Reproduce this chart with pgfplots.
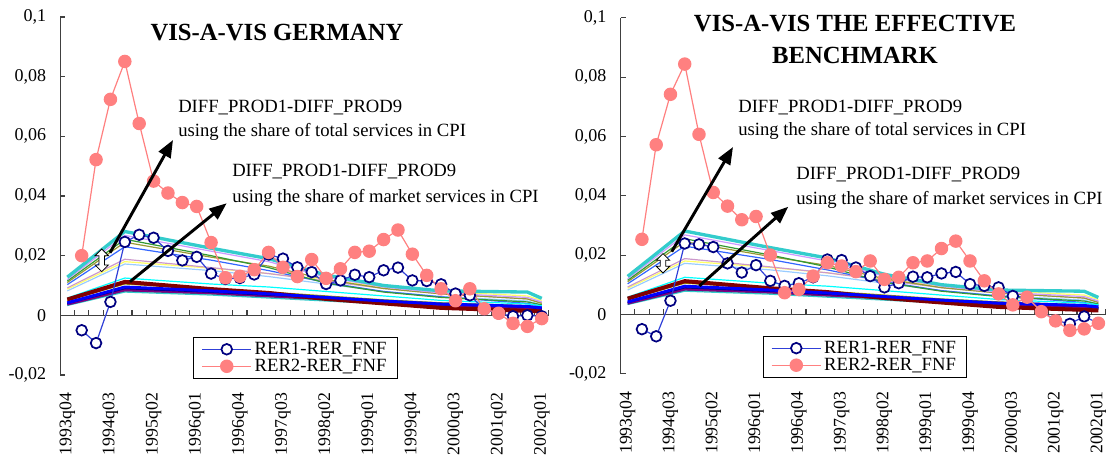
\documentclass[border=0pt]{standalone}
\usepackage{fontspec}
\setmainfont{Liberation Serif}
\usepackage{pgfplots}
\usepackage{pgfplotstable}
\pgfplotsset{compat=1.18}
\usetikzlibrary{arrows.meta}

\definecolor{cTeal}{HTML}{33CCCC}
\definecolor{cViolet}{HTML}{CC99FF}
\definecolor{cGreen}{HTML}{339933}
\definecolor{cOlive}{HTML}{999933}
\definecolor{cBlueA}{HTML}{3366FF}
\definecolor{cPink}{HTML}{CC99CC}
\definecolor{cYellow}{HTML}{FFFF66}
\definecolor{cLightBlue}{HTML}{99CCFF}
\definecolor{cCyan}{HTML}{00FFFF}
\definecolor{cOliveB}{HTML}{999900}
\definecolor{cNavy}{HTML}{000080}
\definecolor{cPurple}{HTML}{800080}
\definecolor{cTealB}{HTML}{008080}
\definecolor{cCyanB}{HTML}{33CCCC}
\definecolor{cMaroon}{HTML}{800000}
\definecolor{cBlueB}{HTML}{0000FF}
\definecolor{cBlueLine}{HTML}{3040D8}
\definecolor{cRed}{HTML}{FF8080}
\definecolor{cAxis}{HTML}{404040}

\pgfplotstableread{
x  t1     t2     t3     t4     t5     t6     t7     t8     m1     m2     m3     m4     m5     m6     m7     m8
0  0.0128 0.0120 0.0115 0.0110 0.0103 0.0092 0.0088 0.0082 0.0058 0.0050 0.0040 0.0037 0.0035 0.0033 0.0053 0.0042
4  0.0281 0.0268 0.0255 0.0245 0.0230 0.0188 0.0180 0.0172 0.0125 0.0105 0.0090 0.0085 0.0082 0.0078 0.0112 0.0095
10 0.0225 0.0215 0.0200 0.0195 0.0185 0.0160 0.0158 0.0150 0.0105 0.0088 0.0078 0.0075 0.0072 0.0068 0.0088 0.0082
14 0.0190 0.0180 0.0160 0.0165 0.0150 0.0140 0.0140 0.0130 0.0095 0.0078 0.0068 0.0065 0.0062 0.0058 0.0075 0.0072
18 0.0135 0.0128 0.0108 0.0120 0.0110 0.0115 0.0118 0.0105 0.0080 0.0065 0.0058 0.0055 0.0052 0.0048 0.0055 0.0060
22 0.0100 0.0095 0.0078 0.0090 0.0080 0.0090 0.0095 0.0080 0.0065 0.0052 0.0046 0.0043 0.0040 0.0038 0.0040 0.0048
26 0.0082 0.0075 0.0060 0.0072 0.0062 0.0072 0.0080 0.0063 0.0050 0.0042 0.0036 0.0033 0.0030 0.0028 0.0025 0.0038
32 0.0078 0.0060 0.0045 0.0055 0.0040 0.0055 0.0065 0.0048 0.0038 0.0032 0.0028 0.0025 0.0022 0.0022 0.0015 0.0030
33 0.0057 0.0045 0.0035 0.0040 0.0030 0.0042 0.0050 0.0035 0.0032 0.0026 0.0022 0.0020 0.0018 0.0018 0.0013 0.0025
}\difflines

\pgfplotstableread{
x y
1 -0.0050
2 -0.0093
3 0.0045
4 0.0246
5 0.0270
6 0.0260
7 0.0216
8 0.0184
9 0.0196
10 0.0140
11 0.0122
12 0.0125
13 0.0137
14 0.0204
15 0.0190
16 0.0161
17 0.0145
18 0.0105
19 0.0117
20 0.0136
21 0.0128
22 0.0151
23 0.0160
24 0.0117
25 0.0115
26 0.0104
27 0.0073
28 0.0067
29 0.0020
30 0.0006
31 -0.0003
32 0.0000
33 -0.0003
}\blueL

\pgfplotstableread{
x y
1 0.0200
2 0.0522
3 0.0724
4 0.0851
5 0.0643
6 0.0450
7 0.0410
8 0.0378
9 0.0365
10 0.0244
11 0.0126
12 0.0131
13 0.0153
14 0.0211
15 0.0161
16 0.0130
17 0.0187
18 0.0124
19 0.0156
20 0.0211
21 0.0215
22 0.0254
23 0.0286
24 0.0205
25 0.0134
26 0.0089
27 0.0049
28 0.0089
29 0.0022
30 0.0007
31 -0.0027
32 -0.0037
33 -0.0011
}\redL

\pgfplotstableread{
x y
1 -0.0050
2 -0.0074
3 0.0046
4 0.0239
5 0.0236
6 0.0227
7 0.0172
8 0.0141
9 0.0166
10 0.0113
11 0.0096
12 0.0105
13 0.0125
14 0.0185
15 0.0183
16 0.0158
17 0.0129
18 0.0091
19 0.0105
20 0.0127
21 0.0125
22 0.0138
23 0.0143
24 0.0102
25 0.0096
26 0.0091
27 0.0062
28 0.0058
29 0.0010
30 -0.0020
31 -0.0032
32 -0.0007
33 -0.0030
}\blueR

\pgfplotstableread{
x y
1 0.0253
2 0.0572
3 0.0742
4 0.0844
5 0.0607
6 0.0411
7 0.0365
8 0.0319
9 0.0330
10 0.0200
11 0.0073
12 0.0084
13 0.0129
14 0.0174
15 0.0163
16 0.0144
17 0.0180
18 0.0118
19 0.0125
20 0.0174
21 0.0180
22 0.0222
23 0.0247
24 0.0180
25 0.0113
26 0.0069
27 0.0032
28 0.0058
29 0.0009
30 -0.0022
31 -0.0054
32 -0.0049
33 -0.0030
}\redR

\pgfplotsset{
  panel/.style={
    scale only axis,
    xmin=-0.5, xmax=33.5, ymin=-0.02, ymax=0.1,
    axis lines*=left,
    x axis line style={draw=none},
    axis line style={line width=0.8pt, cAxis},
    xtick={0,3,...,33},
    xticklabels={1993q04,1994q03,1995q02,1996q01,1996q04,1997q03,1998q02,1999q01,1999q04,2000q03,2001q02,2002q01},
    xtick style={draw=none},
    xticklabel style={rotate=90, anchor=east, font=\fontsize{13.3}{15}\selectfont, xshift=-10pt},
    ytick={-0.02,0,0.02,0.04,0.06,0.08,0.1},
    yticklabels={{-0,02},{0},{0,02},{0,04},{0,06},{0,08},{0,1}},
    yticklabel style={font=\fontsize{13.5}{15}\selectfont, xshift=-7pt},
    tick align=inside,
    major tick length=3.75pt,
    ytick style={line width=0.8pt, cAxis},
    clip=false,
    legend cell align=left,
    legend style={draw=black, line width=0.6pt, font=\fontsize{14}{14}\selectfont,
      inner xsep=6pt, inner ysep=1.5pt, row sep=-2pt, anchor=north west},
    legend image code/.code={
      \draw[mark repeat=2,mark phase=2,##1] plot coordinates {(0pt,0pt) (18.5pt,0pt) (37pt,0pt)};
    },
  },
  dl/.style={forget plot, mark=none},
}

\newcommand{\difflinesplot}{%
  \pgfplotsinvokeforeach{-0.5,0.5,...,33.5}{\draw[line width=0.8pt, cAxis] (axis cs:##1,0) -- ++(0pt,3.75pt);}
  \draw[line width=0.8pt, cAxis] (axis cs:-0.5,0) -- (axis cs:33.5,0);
  \addplot[dl, cLightBlue, line width=0.9pt] table[x=x,y=t8]{\difflines};
  \addplot[dl, cYellow, line width=0.9pt] table[x=x,y=t7]{\difflines};
  \addplot[dl, cPink, line width=0.9pt] table[x=x,y=t6]{\difflines};
  \addplot[dl, cBlueA, line width=0.9pt] table[x=x,y=t5]{\difflines};
  \addplot[dl, cOlive, line width=0.9pt] table[x=x,y=t4]{\difflines};
  \addplot[dl, cGreen, line width=0.9pt] table[x=x,y=t3]{\difflines};
  \addplot[dl, cViolet, line width=0.9pt] table[x=x,y=t2]{\difflines};
  \addplot[dl, cTeal, line width=2.5pt] table[x=x,y=t1]{\difflines};
  \addplot[dl, cCyanB, line width=0.9pt] table[x=x,y=m6]{\difflines};
  \addplot[dl, cTealB, line width=0.9pt] table[x=x,y=m5]{\difflines};
  \addplot[dl, cPurple, line width=1.9pt] table[x=x,y=m4]{\difflines};
  \addplot[dl, cNavy, line width=1.2pt] table[x=x,y=m3]{\difflines};
  \addplot[dl, cOliveB, line width=0.9pt] table[x=x,y=m2]{\difflines};
  \addplot[dl, cCyan, line width=0.9pt] table[x=x,y=m1]{\difflines};
  \addplot[dl, cMaroon, line width=3pt] table[x=x,y=m7]{\difflines};
  \addplot[dl, cBlueB, line width=2.2pt] table[x=x,y=m8]{\difflines};
}

\begin{document}
\begin{tikzpicture}
\useasboundingbox (0pt,0pt) rectangle (829.5pt,342.75pt);

% ---------------- left panel ----------------
\begin{axis}[panel, at={(45.1pt,61.5pt)}, anchor=south west,
  width=366.6pt, height=268.5pt,
  legend style={at={(0.272,0.106)}}]
  \difflinesplot
  \addplot[cBlueLine, line width=0.9pt, mark=*, mark size=4pt,
    mark options={draw=cNavy, fill=white, line width=1.3pt}] table[x=x,y=y]{\blueL};
  \addlegendentry{RER1-RER\_FNF}
  \addplot[cRed, line width=0.9pt, mark=*, mark size=4.6pt,
    mark options={draw=cRed, fill=cRed}] table[x=x,y=y]{\redL};
  \addlegendentry{RER2-RER\_FNF}
\end{axis}

% ---------------- right panel ----------------
\begin{axis}[panel, at={(465.4pt,62.5pt)}, anchor=south west,
  width=363.75pt, height=266.9pt,
  legend style={at={(0.293,0.106)}}]
  \difflinesplot
  \addplot[cBlueLine, line width=0.9pt, mark=*, mark size=4pt,
    mark options={draw=cNavy, fill=white, line width=1.3pt}] table[x=x,y=y]{\blueR};
  \addlegendentry{RER1-RER\_FNF}
  \addplot[cRed, line width=0.9pt, mark=*, mark size=4.6pt,
    mark options={draw=cRed, fill=cRed}] table[x=x,y=y]{\redR};
  \addlegendentry{RER2-RER\_FNF}
\end{axis}

% titles
\node[font=\fontsize{18.5}{22}\selectfont\bfseries] at (207.75pt,318pt) {VIS-A-VIS GERMANY};
\node[font=\fontsize{18.5}{22}\selectfont\bfseries] at (641.25pt,325pt) {VIS-A-VIS THE EFFECTIVE};
\node[font=\fontsize{18.5}{22}\selectfont\bfseries] at (641.25pt,301.5pt) {BENCHMARK};

% annotations left
\node[anchor=base west, inner sep=0pt, font=\fontsize{14}{16}\selectfont] at (133.5pt,258.4pt) {DIFF\_PROD1-DIFF\_PROD9};
\node[anchor=base west, inner sep=0pt, font=\fontsize{14}{16}\selectfont] at (133.5pt,240pt) {using the share of total services in CPI};
\node[anchor=base west, inner sep=0pt, font=\fontsize{14}{16}\selectfont] at (174pt,210.2pt) {DIFF\_PROD1-DIFF\_PROD9};
\node[anchor=base west, inner sep=0pt, font=\fontsize{14}{16}\selectfont] at (174pt,191pt) {using the share of market services in CPI};
% annotations right
\node[anchor=base west, inner sep=0pt, font=\fontsize{14}{16}\selectfont] at (553.5pt,258.5pt) {DIFF\_PROD1-DIFF\_PROD9};
\node[anchor=base west, inner sep=0pt, font=\fontsize{14}{16}\selectfont] at (553.5pt,240.75pt) {using the share of total services in CPI};
\node[anchor=base west, inner sep=0pt, font=\fontsize{14}{16}\selectfont] at (597pt,207.75pt) {DIFF\_PROD1-DIFF\_PROD9};
\node[anchor=base west, inner sep=0pt, font=\fontsize{14}{16}\selectfont] at (597pt,189pt) {using the share of market services in CPI};

% arrows
\draw[line width=2.2pt, -{Triangle[length=13pt,width=10pt]}] (82.5pt,153.2pt) -- (129.75pt,237.75pt);
\draw[line width=2.2pt, -{Triangle[length=13pt,width=10pt]}] (97.5pt,131.5pt) -- (170pt,190.3pt);
\draw[line width=2.2pt, -{Triangle[length=13pt,width=10pt]}] (503.8pt,154pt) -- (549.75pt,232.5pt);
\draw[line width=2.2pt, -{Triangle[length=13pt,width=10pt]}] (524.5pt,128.25pt) -- (591.2pt,187.7pt);

% hollow double arrows
\draw[black, fill=white, line width=0.6pt, line join=miter]
  (76.3pt,156pt) -- (81.3pt,151pt) -- (78.3pt,151pt) -- (78.3pt,144pt) -- (81.3pt,144pt)
  -- (76.3pt,139pt) -- (71.3pt,144pt) -- (74.3pt,144pt) -- (74.3pt,151pt) -- (71.3pt,151pt) -- cycle;
\draw[black, fill=white, line width=0.6pt, line join=miter]
  (497.25pt,152.5pt) -- (502.25pt,147.5pt) -- (499.25pt,147.5pt) -- (499.25pt,143pt) -- (502.25pt,143pt)
  -- (497.25pt,138pt) -- (492.25pt,143pt) -- (495.25pt,143pt) -- (495.25pt,147.5pt) -- (492.25pt,147.5pt) -- cycle;
\end{tikzpicture}
\end{document}
